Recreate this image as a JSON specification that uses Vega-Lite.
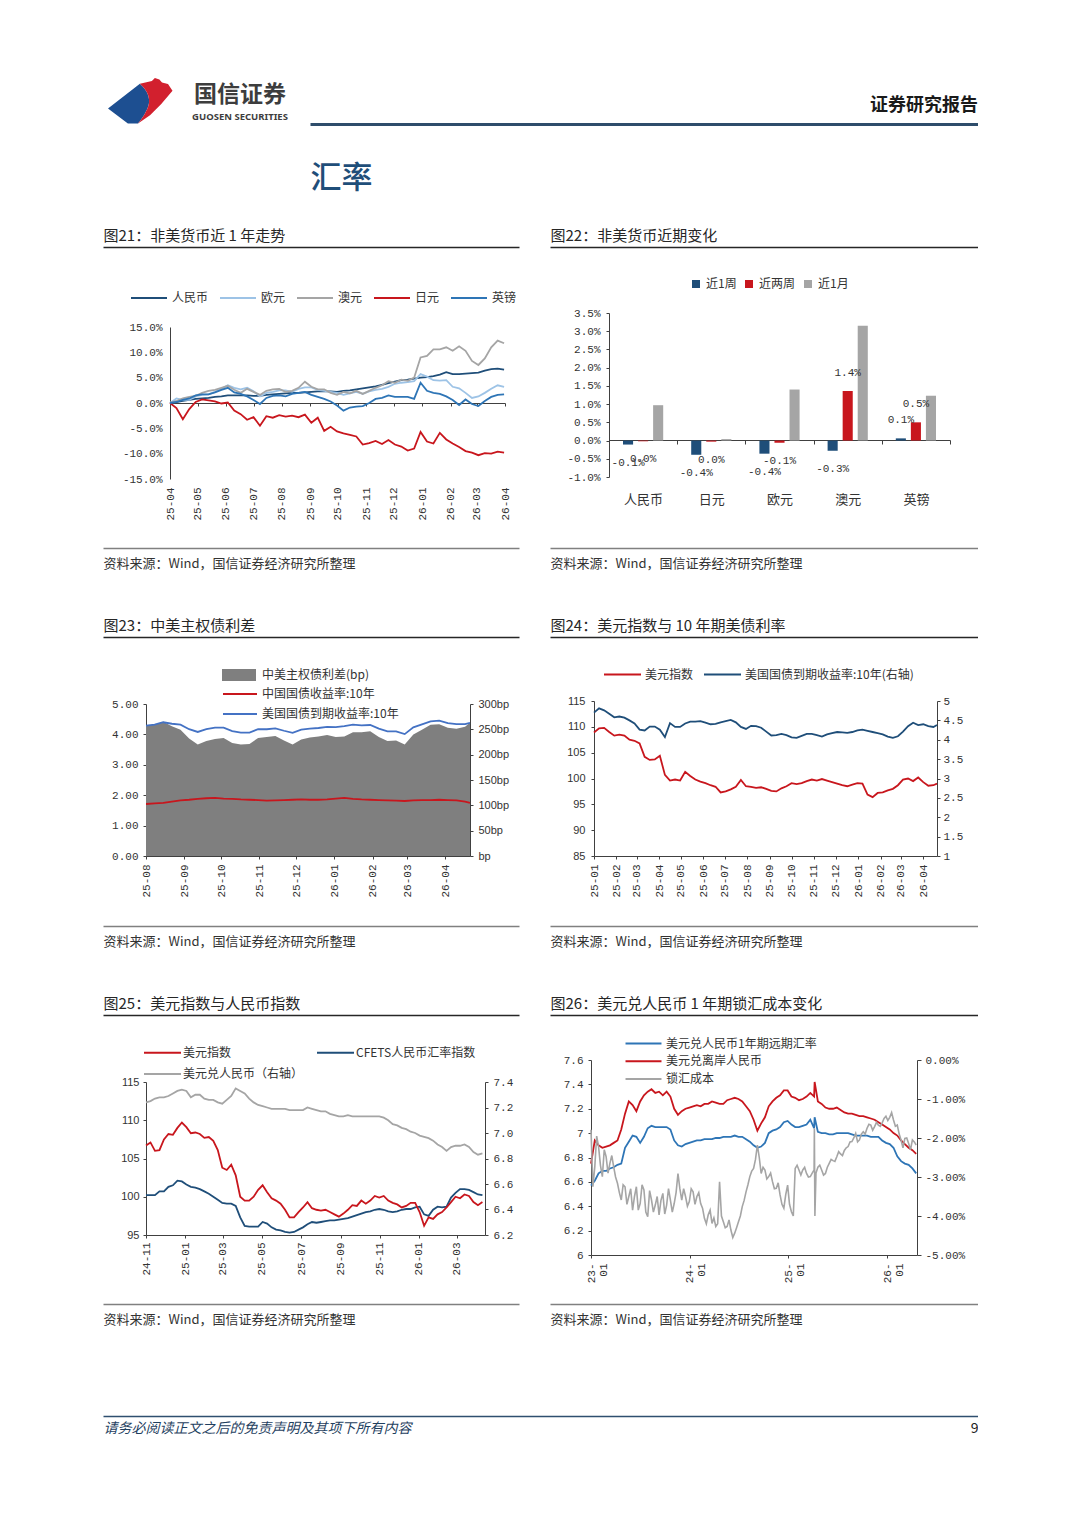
{
"$schema":"https://vega.github.io/schema/vega-lite/v6.json",
"padding":{"left":103,"top":78,"right":0,"bottom":0},
"background":"white",
"config":{
 "view":{"stroke":null},
 "font":"Noto Sans CJK SC",
 "locale":{"number":{"decimal":".","thousands":",","grouping":[3],"currency":["",""],"minus":"-"}},
 "axis":{"grid":false,"domainColor":"#404040","domainWidth":1,"tickColor":"#404040","tickSize":3,"labelColor":"#333333","labelFont":"Liberation Mono","labelFontSize":11,"labelOverlap":false,"labelBound":false,"labelFlush":false,"titleFont":"Noto Sans CJK SC"},
 "legend":{"labelFont":"Noto Sans CJK SC","labelFontSize":12,"labelColor":"#333333","padding":0,"labelLimit":400}
},
"datasets":{
"c21":[
{"d":"2025-04-01","人民币":0,"欧元":0,"澳元":0,"日元":0,"英镑":0},
{"d":"2025-04-08","人民币":0.2,"欧元":0.9,"澳元":0.4,"日元":-1.0,"英镑":0.2},
{"d":"2025-04-15","人民币":0.4,"欧元":0.6,"澳元":0.9,"日元":-3.2,"英镑":0.6},
{"d":"2025-04-22","人民币":0.6,"欧元":0.6,"澳元":1.2,"日元":-1.2,"英镑":0.9},
{"d":"2025-04-29","人民币":0.8,"欧元":1.3,"澳元":1.4,"日元":0.2,"英镑":1.5},
{"d":"2025-05-06","人民币":0.9,"欧元":1.6,"澳元":2.0,"日元":0.7,"英镑":1.7},
{"d":"2025-05-13","人民币":1.0,"欧元":1.7,"澳元":2.4,"日元":0.5,"英镑":1.7},
{"d":"2025-05-20","人民币":1.2,"欧元":2.2,"澳元":2.6,"日元":0.3,"英镑":2.1},
{"d":"2025-05-27","人民币":1.3,"欧元":2.8,"澳元":3.0,"日元":-0.1,"英镑":2.6},
{"d":"2025-06-03","人民币":1.5,"欧元":3.5,"澳元":3.4,"日元":0.1,"英镑":3.0},
{"d":"2025-06-10","人民币":1.5,"欧元":3.0,"澳元":2.6,"日元":-1.5,"英镑":2.1},
{"d":"2025-06-17","人民币":1.5,"欧元":2.7,"澳元":2.0,"日元":-2.2,"英镑":1.8},
{"d":"2025-06-24","人民币":1.5,"欧元":3.0,"澳元":2.8,"日元":-3.3,"英镑":1.3},
{"d":"2025-07-01","人民币":1.4,"欧元":2.3,"澳元":2.2,"日元":-2.8,"英镑":0.6},
{"d":"2025-07-08","人民币":1.4,"欧元":1.3,"澳元":1.6,"日元":-4.5,"英镑":-0.2},
{"d":"2025-07-15","人民币":1.6,"欧元":2.0,"澳元":2.4,"日元":-2.6,"英镑":1.0},
{"d":"2025-07-22","人民币":1.7,"欧元":2.2,"澳元":2.7,"日元":-2.9,"英镑":1.4},
{"d":"2025-07-29","人民币":1.8,"欧元":2.5,"澳元":2.8,"日元":-2.4,"英镑":1.5},
{"d":"2025-08-05","人民币":1.9,"欧元":2.5,"澳元":2.2,"日元":-2.7,"英镑":1.3},
{"d":"2025-08-12","人民币":2.0,"欧元":2.2,"澳元":2.4,"日元":-2.5,"英镑":1.8},
{"d":"2025-08-19","人民币":2.0,"欧元":2.8,"澳元":3.0,"日元":-2.8,"英镑":2.0},
{"d":"2025-08-26","人民币":2.1,"欧元":3.1,"澳元":4.2,"日元":-2.3,"英镑":2.2},
{"d":"2025-09-02","人民币":2.2,"欧元":3.1,"澳元":3.2,"日元":-3.9,"英镑":1.6},
{"d":"2025-09-09","人民币":2.3,"欧元":2.6,"澳元":2.7,"日元":-2.9,"英镑":1.2},
{"d":"2025-09-16","人民币":2.3,"欧元":2.4,"澳元":2.7,"日元":-5.5,"英镑":0.8},
{"d":"2025-09-23","人民币":2.3,"欧元":2.2,"澳元":2.0,"日元":-4.7,"英镑":0.3},
{"d":"2025-09-30","人民币":2.2,"欧元":2.0,"澳元":1.6,"日元":-5.6,"英镑":-0.5},
{"d":"2025-10-07","人民币":2.4,"欧元":1.6,"澳元":2.2,"日元":-6.0,"英镑":-1.5},
{"d":"2025-10-14","人民币":2.5,"欧元":1.9,"澳元":1.9,"日元":-6.3,"英镑":-0.9},
{"d":"2025-10-21","人民币":2.7,"欧元":2.2,"澳元":2.4,"日元":-6.6,"英镑":-0.7},
{"d":"2025-10-28","人民币":2.9,"欧元":1.8,"澳元":1.8,"日元":-8.2,"英镑":-0.6},
{"d":"2025-11-04","人民币":3.1,"欧元":2.3,"澳元":2.4,"日元":-7.9,"英镑":0.0},
{"d":"2025-11-11","人民币":3.3,"欧元":2.6,"澳元":3.0,"日元":-7.5,"英镑":0.8},
{"d":"2025-11-18","人民币":3.6,"欧元":2.8,"澳元":3.5,"日元":-8.1,"英镑":1.0},
{"d":"2025-11-25","人民币":3.9,"欧元":3.2,"澳元":4.3,"日元":-7.3,"英镑":1.5},
{"d":"2025-12-02","人民币":4.2,"欧元":3.8,"澳元":4.0,"日元":-8.2,"英镑":1.2},
{"d":"2025-12-09","人民币":4.5,"欧元":4.0,"澳元":4.6,"日元":-8.6,"英镑":1.2},
{"d":"2025-12-16","人民币":4.6,"欧元":4.1,"澳元":4.4,"日元":-9.4,"英镑":1.2},
{"d":"2025-12-23","人民币":4.8,"欧元":4.3,"澳元":5.0,"日元":-9.0,"英镑":0.8},
{"d":"2025-12-30","人民币":5.0,"欧元":5.7,"澳元":9.0,"日元":-5.7,"英镑":4.0},
{"d":"2026-01-06","人民币":5.1,"欧元":5.2,"澳元":9.3,"日元":-7.6,"英镑":2.4},
{"d":"2026-01-13","人民币":5.3,"欧元":4.5,"澳元":10.6,"日元":-8.0,"英镑":2.0},
{"d":"2026-01-20","人民币":5.6,"欧元":4.4,"澳元":10.6,"日元":-5.9,"英镑":1.8},
{"d":"2026-01-27","人民币":6.1,"欧元":4.5,"澳元":11.0,"日元":-7.2,"英镑":1.3},
{"d":"2026-02-03","人民币":5.7,"欧元":3.2,"澳元":10.3,"日元":-8.0,"英镑":0.6},
{"d":"2026-02-10","人民币":5.7,"欧元":2.9,"澳元":11.2,"日元":-8.7,"英镑":-0.4},
{"d":"2026-02-17","人民币":5.8,"欧元":2.0,"澳元":10.3,"日元":-9.5,"英镑":0.7},
{"d":"2026-02-24","人民币":5.9,"欧元":1.0,"澳元":8.3,"日元":-9.8,"英镑":-0.2},
{"d":"2026-03-03","人民币":6.0,"欧元":1.3,"澳元":7.5,"日元":-10.3,"英镑":-0.6},
{"d":"2026-03-10","人民币":6.4,"欧元":2.0,"澳元":8.8,"日元":-9.9,"英镑":0.4},
{"d":"2026-03-17","人民币":6.7,"欧元":2.8,"澳元":11.0,"日元":-10.0,"英镑":1.2},
{"d":"2026-03-24","人民币":6.8,"欧元":3.5,"澳元":12.3,"日元":-9.6,"英镑":1.6},
{"d":"2026-03-31","人民币":6.6,"欧元":3.2,"澳元":11.8,"日元":-9.8,"英镑":1.7}
],
"c22":[
{"c":"人民币","s":"近1周","v":-0.0011},{"c":"人民币","s":"近两周","v":-0.0002},{"c":"人民币","s":"近1月","v":0.0097},
{"c":"日元","s":"近1周","v":-0.0039},{"c":"日元","s":"近两周","v":-0.0003},{"c":"日元","s":"近1月","v":0.0004},
{"c":"欧元","s":"近1周","v":-0.0036},{"c":"欧元","s":"近两周","v":-0.0006},{"c":"欧元","s":"近1月","v":0.014},
{"c":"澳元","s":"近1周","v":-0.0028},{"c":"澳元","s":"近两周","v":0.0136},{"c":"澳元","s":"近1月","v":0.0315},
{"c":"英镑","s":"近1周","v":0.0006},{"c":"英镑","s":"近两周","v":0.005},{"c":"英镑","s":"近1月","v":0.0123}
],
"c23":[
{"d":"2025-08-01","us":4.29,"cn":1.71,"sp":258},{"d":"2025-08-08","us":4.32,"cn":1.73,"sp":259},{"d":"2025-08-15","us":4.40,"cn":1.75,"sp":265},
{"d":"2025-08-22","us":4.35,"cn":1.79,"sp":256},{"d":"2025-08-29","us":4.32,"cn":1.83,"sp":249},{"d":"2025-09-05","us":4.17,"cn":1.85,"sp":232},
{"d":"2025-09-12","us":4.08,"cn":1.88,"sp":220},{"d":"2025-09-19","us":4.17,"cn":1.90,"sp":227},{"d":"2025-09-26","us":4.22,"cn":1.91,"sp":231},
{"d":"2025-10-03","us":4.22,"cn":1.89,"sp":233},{"d":"2025-10-10","us":4.11,"cn":1.88,"sp":223},{"d":"2025-10-17","us":4.06,"cn":1.86,"sp":220},
{"d":"2025-10-24","us":4.06,"cn":1.85,"sp":221},{"d":"2025-10-31","us":4.17,"cn":1.84,"sp":233},{"d":"2025-11-07","us":4.17,"cn":1.82,"sp":235},
{"d":"2025-11-14","us":4.20,"cn":1.83,"sp":237},{"d":"2025-11-21","us":4.12,"cn":1.84,"sp":228},{"d":"2025-11-28","us":4.05,"cn":1.85,"sp":220},
{"d":"2025-12-05","us":4.16,"cn":1.86,"sp":230},{"d":"2025-12-12","us":4.19,"cn":1.85,"sp":234},{"d":"2025-12-19","us":4.21,"cn":1.85,"sp":236},
{"d":"2025-12-26","us":4.25,"cn":1.86,"sp":239},{"d":"2026-01-02","us":4.24,"cn":1.89,"sp":235},{"d":"2026-01-09","us":4.27,"cn":1.91,"sp":236},
{"d":"2026-01-16","us":4.32,"cn":1.88,"sp":244},{"d":"2026-01-23","us":4.30,"cn":1.86,"sp":244},{"d":"2026-01-30","us":4.31,"cn":1.85,"sp":246},
{"d":"2026-02-06","us":4.19,"cn":1.84,"sp":235},{"d":"2026-02-13","us":4.10,"cn":1.83,"sp":227},{"d":"2026-02-20","us":4.10,"cn":1.82,"sp":228},
{"d":"2026-02-27","us":4.01,"cn":1.81,"sp":220},{"d":"2026-03-06","us":4.23,"cn":1.83,"sp":240},{"d":"2026-03-13","us":4.33,"cn":1.84,"sp":249},
{"d":"2026-03-20","us":4.43,"cn":1.84,"sp":259},{"d":"2026-03-27","us":4.45,"cn":1.85,"sp":260},{"d":"2026-04-03","us":4.37,"cn":1.84,"sp":253},
{"d":"2026-04-10","us":4.34,"cn":1.83,"sp":251},{"d":"2026-04-17","us":4.34,"cn":1.79,"sp":255},{"d":"2026-04-21","us":4.38,"cn":1.75,"sp":263}
],
"c24":[
{"d":"2025-01-01","dxy":108.9,"u":4.70},{"d":"2025-01-08","dxy":109.7,"u":4.81},{"d":"2025-01-15","dxy":109.8,"u":4.76},{"d":"2025-01-22","dxy":109.0,"u":4.67},
{"d":"2025-01-29","dxy":108.3,"u":4.58},{"d":"2025-02-05","dxy":108.5,"u":4.60},{"d":"2025-02-12","dxy":108.3,"u":4.57},{"d":"2025-02-19","dxy":107.5,"u":4.50},
{"d":"2025-02-26","dxy":107.3,"u":4.42},{"d":"2025-03-05","dxy":106.8,"u":4.26},{"d":"2025-03-12","dxy":104.2,"u":4.24},{"d":"2025-03-19","dxy":103.6,"u":4.34},
{"d":"2025-03-26","dxy":103.7,"u":4.34},{"d":"2025-04-02","dxy":104.4,"u":4.26},{"d":"2025-04-09","dxy":100.7,"u":4.07},{"d":"2025-04-16","dxy":99.6,"u":4.43},
{"d":"2025-04-23","dxy":99.8,"u":4.33},{"d":"2025-04-30","dxy":99.6,"u":4.33},{"d":"2025-05-07","dxy":101.3,"u":4.42},{"d":"2025-05-14","dxy":100.5,"u":4.47},
{"d":"2025-05-21","dxy":99.8,"u":4.47},{"d":"2025-05-28","dxy":99.4,"u":4.48},{"d":"2025-06-04","dxy":99.1,"u":4.44},{"d":"2025-06-11","dxy":98.7,"u":4.40},
{"d":"2025-06-18","dxy":98.4,"u":4.41},{"d":"2025-06-25","dxy":97.3,"u":4.45},{"d":"2025-07-02","dxy":97.5,"u":4.48},{"d":"2025-07-09","dxy":97.9,"u":4.51},
{"d":"2025-07-16","dxy":98.4,"u":4.45},{"d":"2025-07-23","dxy":99.7,"u":4.33},{"d":"2025-07-30","dxy":98.5,"u":4.28},{"d":"2025-08-06","dxy":98.4,"u":4.36},
{"d":"2025-08-13","dxy":98.2,"u":4.35},{"d":"2025-08-20","dxy":98.3,"u":4.31},{"d":"2025-08-27","dxy":98.0,"u":4.21},{"d":"2025-09-03","dxy":97.6,"u":4.11},
{"d":"2025-09-10","dxy":97.5,"u":4.12},{"d":"2025-09-17","dxy":98.1,"u":4.15},{"d":"2025-09-24","dxy":98.5,"u":4.12},{"d":"2025-10-01","dxy":99.1,"u":4.06},
{"d":"2025-10-08","dxy":98.9,"u":4.05},{"d":"2025-10-15","dxy":99.1,"u":4.10},{"d":"2025-10-22","dxy":99.5,"u":4.15},{"d":"2025-10-29","dxy":99.8,"u":4.15},
{"d":"2025-11-05","dxy":99.6,"u":4.12},{"d":"2025-11-12","dxy":99.9,"u":4.08},{"d":"2025-11-19","dxy":99.6,"u":4.14},{"d":"2025-11-26","dxy":99.3,"u":4.17},
{"d":"2025-12-03","dxy":99.0,"u":4.20},{"d":"2025-12-10","dxy":98.7,"u":4.19},{"d":"2025-12-17","dxy":98.5,"u":4.18},{"d":"2025-12-24","dxy":98.8,"u":4.20},
{"d":"2025-12-31","dxy":99.1,"u":4.24},{"d":"2026-01-07","dxy":99.0,"u":4.26},{"d":"2026-01-14","dxy":96.9,"u":4.23},{"d":"2026-01-21","dxy":96.4,"u":4.20},
{"d":"2026-01-28","dxy":97.2,"u":4.17},{"d":"2026-02-04","dxy":97.3,"u":4.14},{"d":"2026-02-11","dxy":97.7,"u":4.08},{"d":"2026-02-18","dxy":98.0,"u":4.05},
{"d":"2026-02-25","dxy":98.7,"u":4.09},{"d":"2026-03-04","dxy":99.8,"u":4.21},{"d":"2026-03-11","dxy":100.0,"u":4.35},{"d":"2026-03-18","dxy":99.5,"u":4.44},
{"d":"2026-03-25","dxy":100.2,"u":4.38},{"d":"2026-04-01","dxy":99.3,"u":4.40},{"d":"2026-04-08","dxy":98.6,"u":4.35},{"d":"2026-04-15","dxy":98.7,"u":4.33},
{"d":"2026-04-20","dxy":99.0,"u":4.38}
],
"c25":[
{"d":"2024-11-01","dxy":106.7,"cf":100.2,"cny":7.24},{"d":"2024-11-08","dxy":107.1,"cf":100.2,"cny":7.25},{"d":"2024-11-15","dxy":106.0,"cf":100.2,"cny":7.27},
{"d":"2024-11-22","dxy":106.1,"cf":100.7,"cny":7.28},{"d":"2024-11-29","dxy":107.5,"cf":100.7,"cny":7.28},{"d":"2024-12-06","dxy":108.2,"cf":101.3,"cny":7.29},
{"d":"2024-12-13","dxy":108.1,"cf":101.5,"cny":7.31},{"d":"2024-12-20","dxy":109.0,"cf":102.1,"cny":7.33},{"d":"2024-12-27","dxy":109.7,"cf":102.0,"cny":7.34},
{"d":"2025-01-03","dxy":109.1,"cf":101.6,"cny":7.33},{"d":"2025-01-10","dxy":108.3,"cf":101.3,"cny":7.28},{"d":"2025-01-17","dxy":108.4,"cf":101.2,"cny":7.30},
{"d":"2025-01-24","dxy":108.2,"cf":101.0,"cny":7.30},{"d":"2025-01-31","dxy":107.7,"cf":100.7,"cny":7.27},{"d":"2025-02-07","dxy":107.8,"cf":100.4,"cny":7.26},
{"d":"2025-02-14","dxy":107.3,"cf":100.0,"cny":7.26},{"d":"2025-02-21","dxy":106.1,"cf":99.6,"cny":7.24},{"d":"2025-02-28","dxy":103.8,"cf":99.2,"cny":7.23},
{"d":"2025-03-07","dxy":103.5,"cf":99.1,"cny":7.26},{"d":"2025-03-14","dxy":104.2,"cf":99.1,"cny":7.29},{"d":"2025-03-21","dxy":102.8,"cf":98.8,"cny":7.35},
{"d":"2025-03-28","dxy":100.0,"cf":97.3,"cny":7.33},{"d":"2025-04-04","dxy":99.5,"cf":96.2,"cny":7.31},{"d":"2025-04-11","dxy":99.5,"cf":96.1,"cny":7.27},
{"d":"2025-04-18","dxy":100.0,"cf":96.1,"cny":7.24},{"d":"2025-04-25","dxy":100.9,"cf":96.1,"cny":7.22},{"d":"2025-05-02","dxy":101.5,"cf":96.7,"cny":7.21},
{"d":"2025-05-09","dxy":100.6,"cf":96.5,"cny":7.20},{"d":"2025-05-16","dxy":99.8,"cf":96.0,"cny":7.19},{"d":"2025-05-23","dxy":99.5,"cf":95.7,"cny":7.19},
{"d":"2025-05-30","dxy":99.1,"cf":95.6,"cny":7.19},{"d":"2025-06-06","dxy":98.3,"cf":95.4,"cny":7.19},{"d":"2025-06-13","dxy":97.3,"cf":95.3,"cny":7.18},
{"d":"2025-06-20","dxy":97.3,"cf":95.4,"cny":7.18},{"d":"2025-06-27","dxy":98.0,"cf":95.7,"cny":7.18},{"d":"2025-07-04","dxy":98.6,"cf":96.0,"cny":7.18},
{"d":"2025-07-11","dxy":99.3,"cf":96.4,"cny":7.20},{"d":"2025-07-18","dxy":98.5,"cf":96.7,"cny":7.19},{"d":"2025-07-25","dxy":98.3,"cf":96.6,"cny":7.18},
{"d":"2025-08-01","dxy":98.2,"cf":96.7,"cny":7.17},{"d":"2025-08-08","dxy":98.3,"cf":96.8,"cny":7.17},{"d":"2025-08-15","dxy":98.0,"cf":96.9,"cny":7.15},
{"d":"2025-08-22","dxy":97.7,"cf":96.9,"cny":7.14},{"d":"2025-08-29","dxy":97.4,"cf":97.0,"cny":7.13},{"d":"2025-09-05","dxy":97.8,"cf":97.1,"cny":7.13},
{"d":"2025-09-12","dxy":98.3,"cf":97.2,"cny":7.14},{"d":"2025-09-19","dxy":98.9,"cf":97.4,"cny":7.13},{"d":"2025-09-26","dxy":98.8,"cf":97.6,"cny":7.13},
{"d":"2025-10-03","dxy":99.5,"cf":97.8,"cny":7.13},{"d":"2025-10-10","dxy":99.1,"cf":98.0,"cny":7.13},{"d":"2025-10-17","dxy":99.5,"cf":98.1,"cny":7.13},
{"d":"2025-10-24","dxy":100.1,"cf":98.3,"cny":7.13},{"d":"2025-10-31","dxy":99.9,"cf":98.4,"cny":7.13},{"d":"2025-11-07","dxy":100.1,"cf":98.3,"cny":7.12},
{"d":"2025-11-14","dxy":99.5,"cf":98.1,"cny":7.10},{"d":"2025-11-21","dxy":99.2,"cf":98.0,"cny":7.07},{"d":"2025-11-28","dxy":99.0,"cf":98.1,"cny":7.06},
{"d":"2025-12-05","dxy":98.6,"cf":98.3,"cny":7.04},{"d":"2025-12-12","dxy":98.8,"cf":98.4,"cny":7.03},{"d":"2025-12-19","dxy":99.2,"cf":98.4,"cny":7.01},
{"d":"2025-12-26","dxy":99.2,"cf":98.6,"cny":7.00},{"d":"2026-01-02","dxy":98.0,"cf":98.7,"cny":6.98},{"d":"2026-01-09","dxy":96.2,"cf":97.7,"cny":6.97},
{"d":"2026-01-16","dxy":97.3,"cf":97.5,"cny":6.96},{"d":"2026-01-23","dxy":97.1,"cf":98.3,"cny":6.94},{"d":"2026-01-30","dxy":97.7,"cf":98.7,"cny":6.91},
{"d":"2026-02-06","dxy":98.0,"cf":98.6,"cny":6.89},{"d":"2026-02-13","dxy":98.6,"cf":98.7,"cny":6.86},{"d":"2026-02-20","dxy":99.3,"cf":99.9,"cny":6.89},
{"d":"2026-02-27","dxy":100.0,"cf":100.5,"cny":6.90},{"d":"2026-03-06","dxy":99.8,"cf":101.0,"cny":6.90},{"d":"2026-03-13","dxy":100.3,"cf":101.0,"cny":6.91},
{"d":"2026-03-20","dxy":100.1,"cf":100.9,"cny":6.89},{"d":"2026-03-27","dxy":99.3,"cf":100.6,"cny":6.85},{"d":"2026-04-03","dxy":98.9,"cf":100.3,"cny":6.83},
{"d":"2026-04-10","dxy":99.3,"cf":100.2,"cny":6.84}
],
"c26":[
{"d":"2023-01-01","f":6.57,"h":6.75},{"d":"2023-01-15","f":6.61,"h":6.94},{"d":"2023-01-29","f":6.67,"h":6.90},{"d":"2023-02-12","f":6.69,"h":6.88},
{"d":"2023-02-26","f":6.69,"h":6.89},{"d":"2023-03-12","f":6.71,"h":6.90},{"d":"2023-03-26","f":6.72,"h":6.92},{"d":"2023-04-09","f":6.74,"h":6.94},
{"d":"2023-04-23","f":6.75,"h":7.03},{"d":"2023-05-07","f":6.88,"h":7.16},{"d":"2023-05-21","f":6.93,"h":7.26},{"d":"2023-06-04","f":6.98,"h":7.23},
{"d":"2023-06-18","f":6.97,"h":7.18},{"d":"2023-07-02","f":6.92,"h":7.26},{"d":"2023-07-16","f":6.97,"h":7.31},{"d":"2023-07-30","f":7.04,"h":7.34},
{"d":"2023-08-13","f":7.06,"h":7.36},{"d":"2023-08-27","f":7.05,"h":7.33},{"d":"2023-09-10","f":7.05,"h":7.34},{"d":"2023-09-24","f":7.05,"h":7.31},
{"d":"2023-10-08","f":7.05,"h":7.34},{"d":"2023-10-22","f":7.03,"h":7.30},{"d":"2023-11-05","f":6.94,"h":7.20},{"d":"2023-11-19","f":6.90,"h":7.15},
{"d":"2023-12-03","f":6.89,"h":7.18},{"d":"2023-12-17","f":6.91,"h":7.20},{"d":"2023-12-31","f":6.92,"h":7.21},{"d":"2024-01-14","f":6.93,"h":7.22},
{"d":"2024-01-28","f":6.94,"h":7.23},{"d":"2024-02-11","f":6.94,"h":7.22},{"d":"2024-02-25","f":6.95,"h":7.24},{"d":"2024-03-10","f":6.95,"h":7.24},
{"d":"2024-03-24","f":6.95,"h":7.26},{"d":"2024-04-07","f":6.96,"h":7.25},{"d":"2024-04-21","f":6.96,"h":7.24},{"d":"2024-05-05","f":6.97,"h":7.24},
{"d":"2024-05-19","f":6.97,"h":7.27},{"d":"2024-06-02","f":6.97,"h":7.28},{"d":"2024-06-16","f":6.98,"h":7.29},{"d":"2024-06-30","f":6.97,"h":7.28},
{"d":"2024-07-14","f":6.97,"h":7.26},{"d":"2024-07-28","f":6.95,"h":7.22},{"d":"2024-08-11","f":6.93,"h":7.18},{"d":"2024-08-25","f":6.90,"h":7.11},
{"d":"2024-09-08","f":6.88,"h":7.02},{"d":"2024-09-22","f":6.89,"h":7.08},{"d":"2024-10-06","f":6.92,"h":7.13},{"d":"2024-10-20","f":7.00,"h":7.22},
{"d":"2024-11-03","f":7.02,"h":7.26},{"d":"2024-11-17","f":7.03,"h":7.29},{"d":"2024-12-01","f":7.05,"h":7.31},{"d":"2024-12-15","f":7.09,"h":7.35},
{"d":"2024-12-29","f":7.10,"h":7.35},{"d":"2025-01-12","f":7.07,"h":7.30},{"d":"2025-01-26","f":7.05,"h":7.29},{"d":"2025-02-09","f":7.05,"h":7.27},
{"d":"2025-02-23","f":7.06,"h":7.28},{"d":"2025-03-09","f":7.07,"h":7.30},{"d":"2025-03-23","f":7.11,"h":7.33},{"d":"2025-04-06","f":7.04,"h":7.30},
{"d":"2025-04-08","f":7.13,"h":7.42},{"d":"2025-04-20","f":7.01,"h":7.26},{"d":"2025-05-04","f":7.00,"h":7.24},{"d":"2025-05-18","f":7.00,"h":7.21},
{"d":"2025-06-01","f":6.99,"h":7.20},{"d":"2025-06-15","f":6.99,"h":7.20},{"d":"2025-06-29","f":7.00,"h":7.21},{"d":"2025-07-13","f":7.00,"h":7.19},
{"d":"2025-07-27","f":7.00,"h":7.17},{"d":"2025-08-10","f":7.00,"h":7.16},{"d":"2025-08-24","f":6.99,"h":7.16},{"d":"2025-09-07","f":6.98,"h":7.15},
{"d":"2025-09-21","f":6.98,"h":7.14},{"d":"2025-10-05","f":6.98,"h":7.14},{"d":"2025-10-19","f":6.98,"h":7.13},{"d":"2025-11-02","f":6.97,"h":7.12},
{"d":"2025-11-16","f":6.97,"h":7.11},{"d":"2025-11-30","f":6.97,"h":7.09},{"d":"2025-12-14","f":6.94,"h":7.07},{"d":"2025-12-28","f":6.92,"h":7.05},
{"d":"2026-01-11","f":6.91,"h":7.03},{"d":"2026-01-25","f":6.88,"h":7.00},{"d":"2026-02-08","f":6.81,"h":6.98},{"d":"2026-02-22","f":6.77,"h":6.94},
{"d":"2026-03-08","f":6.75,"h":6.91},{"d":"2026-03-22","f":6.74,"h":6.88},{"d":"2026-04-05","f":6.71,"h":6.86},{"d":"2026-04-19","f":6.67,"h":6.83}
],
"c26g":[
{"d":"2023-01-01","g":-1.79},{"d":"2023-01-08","g":-3.25},{"d":"2023-01-15","g":-2.74},{"d":"2023-01-22","g":-1.95},{"d":"2023-01-29","g":-2.22},
{"d":"2023-02-05","g":-2.70},{"d":"2023-02-12","g":-2.99},{"d":"2023-02-19","g":-2.30},{"d":"2023-02-26","g":-2.48},{"d":"2023-03-05","g":-2.90},
{"d":"2023-03-12","g":-2.65},{"d":"2023-03-19","g":-2.45},{"d":"2023-03-26","g":-2.74},{"d":"2023-04-02","g":-3.00},{"d":"2023-04-09","g":-3.16},
{"d":"2023-04-16","g":-3.40},{"d":"2023-04-23","g":-3.59},{"d":"2023-04-30","g":-3.20},{"d":"2023-05-07","g":-3.25},{"d":"2023-05-14","g":-3.70},
{"d":"2023-05-21","g":-3.50},{"d":"2023-05-28","g":-3.30},{"d":"2023-06-04","g":-3.85},{"d":"2023-06-11","g":-3.50},{"d":"2023-06-18","g":-3.25},
{"d":"2023-06-25","g":-3.85},{"d":"2023-07-02","g":-3.68},{"d":"2023-07-09","g":-3.20},{"d":"2023-07-16","g":-3.33},{"d":"2023-07-23","g":-3.90},
{"d":"2023-07-30","g":-4.02},{"d":"2023-08-06","g":-3.35},{"d":"2023-08-13","g":-3.59},{"d":"2023-08-20","g":-3.90},{"d":"2023-08-27","g":-3.72},
{"d":"2023-09-03","g":-3.50},{"d":"2023-09-10","g":-3.97},{"d":"2023-09-17","g":-3.60},{"d":"2023-09-24","g":-3.42},{"d":"2023-10-01","g":-3.95},
{"d":"2023-10-08","g":-3.72},{"d":"2023-10-15","g":-3.30},{"d":"2023-10-22","g":-3.59},{"d":"2023-10-29","g":-3.90},{"d":"2023-11-05","g":-3.68},
{"d":"2023-11-12","g":-3.40},{"d":"2023-11-19","g":-2.91},{"d":"2023-11-26","g":-3.30},{"d":"2023-12-03","g":-3.59},{"d":"2023-12-10","g":-3.30},
{"d":"2023-12-17","g":-3.50},{"d":"2023-12-24","g":-3.75},{"d":"2023-12-31","g":-3.63},{"d":"2024-01-07","g":-3.30},{"d":"2024-01-14","g":-3.38},
{"d":"2024-01-21","g":-3.70},{"d":"2024-01-28","g":-3.50},{"d":"2024-02-04","g":-3.40},{"d":"2024-02-11","g":-3.68},{"d":"2024-02-18","g":-3.80},
{"d":"2024-02-25","g":-4.06},{"d":"2024-03-03","g":-4.20},{"d":"2024-03-10","g":-3.97},{"d":"2024-03-17","g":-3.85},{"d":"2024-03-24","g":-4.19},
{"d":"2024-03-31","g":-4.05},{"d":"2024-04-07","g":-4.27},{"d":"2024-04-14","g":-4.20},{"d":"2024-04-21","g":-3.12},{"d":"2024-04-28","g":-4.00},
{"d":"2024-05-05","g":-4.15},{"d":"2024-05-12","g":-4.30},{"d":"2024-05-19","g":-4.27},{"d":"2024-05-26","g":-4.10},{"d":"2024-06-02","g":-4.36},
{"d":"2024-06-09","g":-4.55},{"d":"2024-06-16","g":-4.44},{"d":"2024-06-23","g":-4.30},{"d":"2024-06-30","g":-4.15},{"d":"2024-07-07","g":-4.00},
{"d":"2024-07-14","g":-3.76},{"d":"2024-07-21","g":-3.60},{"d":"2024-07-28","g":-3.38},{"d":"2024-08-04","g":-3.20},{"d":"2024-08-11","g":-2.99},
{"d":"2024-08-18","g":-2.85},{"d":"2024-08-25","g":-2.78},{"d":"2024-09-01","g":-2.55},{"d":"2024-09-08","g":-2.18},{"d":"2024-09-15","g":-2.50},
{"d":"2024-09-22","g":-2.91},{"d":"2024-09-29","g":-2.75},{"d":"2024-10-06","g":-2.82},{"d":"2024-10-13","g":-3.05},{"d":"2024-10-20","g":-2.99},
{"d":"2024-10-27","g":-2.90},{"d":"2024-11-03","g":-3.12},{"d":"2024-11-10","g":-3.30},{"d":"2024-11-17","g":-3.29},{"d":"2024-11-24","g":-3.15},
{"d":"2024-12-01","g":-3.46},{"d":"2024-12-08","g":-3.70},{"d":"2024-12-15","g":-3.80},{"d":"2024-12-22","g":-3.45},{"d":"2024-12-29","g":-3.21},
{"d":"2025-01-05","g":-3.70},{"d":"2025-01-12","g":-3.89},{"d":"2025-01-19","g":-4.00},{"d":"2025-01-26","g":-2.78},{"d":"2025-02-02","g":-2.70},
{"d":"2025-02-09","g":-2.82},{"d":"2025-02-16","g":-2.95},{"d":"2025-02-23","g":-2.82},{"d":"2025-03-02","g":-2.75},{"d":"2025-03-09","g":-2.91},
{"d":"2025-03-16","g":-3.00},{"d":"2025-03-23","g":-2.99},{"d":"2025-03-30","g":-2.90},{"d":"2025-04-06","g":-2.82},{"d":"2025-04-07","g":-1.75},
{"d":"2025-04-09","g":-4.00},{"d":"2025-04-13","g":-2.90},{"d":"2025-04-20","g":-2.75},{"d":"2025-04-27","g":-2.70},{"d":"2025-05-04","g":-2.82},
{"d":"2025-05-11","g":-2.95},{"d":"2025-05-18","g":-2.91},{"d":"2025-05-25","g":-2.75},{"d":"2025-06-01","g":-2.65},{"d":"2025-06-08","g":-2.55},
{"d":"2025-06-15","g":-2.58},{"d":"2025-06-22","g":-2.60},{"d":"2025-06-29","g":-2.48},{"d":"2025-07-06","g":-2.35},{"d":"2025-07-13","g":-2.41},
{"d":"2025-07-20","g":-2.45},{"d":"2025-07-27","g":-2.32},{"d":"2025-08-03","g":-2.25},{"d":"2025-08-10","g":-2.22},{"d":"2025-08-17","g":-2.10},
{"d":"2025-08-24","g":-2.09},{"d":"2025-08-31","g":-2.00},{"d":"2025-09-07","g":-1.88},{"d":"2025-09-14","g":-2.10},{"d":"2025-09-21","g":-2.05},
{"d":"2025-09-28","g":-1.90},{"d":"2025-10-05","g":-1.84},{"d":"2025-10-12","g":-1.90},{"d":"2025-10-19","g":-1.75},{"d":"2025-10-26","g":-1.65},
{"d":"2025-11-02","g":-1.67},{"d":"2025-11-09","g":-1.80},{"d":"2025-11-16","g":-1.71},{"d":"2025-11-23","g":-1.60},{"d":"2025-11-30","g":-1.67},
{"d":"2025-12-07","g":-1.70},{"d":"2025-12-14","g":-1.61},{"d":"2025-12-21","g":-1.50},{"d":"2025-12-28","g":-1.44},{"d":"2026-01-04","g":-1.55},
{"d":"2026-01-11","g":-1.47},{"d":"2026-01-18","g":-1.35},{"d":"2026-01-25","g":-1.54},{"d":"2026-02-01","g":-1.70},{"d":"2026-02-08","g":-1.67},
{"d":"2026-02-15","g":-1.90},{"d":"2026-02-22","g":-2.05},{"d":"2026-03-01","g":-2.25},{"d":"2026-03-08","g":-2.01},{"d":"2026-03-15","g":-2.00},
{"d":"2026-03-22","g":-2.14},{"d":"2026-03-29","g":-2.30},{"d":"2026-04-05","g":-2.05},{"d":"2026-04-12","g":-2.10},{"d":"2026-04-19","g":-2.18}
]
},
"spacing":35,
"resolve":{"scale":{"color":"independent","fill":"independent","shape":"independent"}},
"vconcat":[
{"hconcat":[
  {"hconcat":[
    {"width":79,"height":44,"data":{"values":[{"p":"b"},{"p":"r"}]},
     "mark":{"type":"point","filled":true,"size":5625,"opacity":1,"strokeWidth":0},
     "encoding":{
      "shape":{"field":"p","type":"nominal","legend":null,"scale":{"domain":["b","r"],"range":["M-0.92,0.17L-0.07,-0.49C0.15,-0.3,0.25,-0.05,0.12,0.2C0.05,0.35,-0.05,0.5,-0.12,0.57L-0.39,0.57Z","M-0.07,-0.49L0.25,-0.56L0.33,-0.64L0.45,-0.6L0.52,-0.52L0.68,-0.48L0.8,-0.3L0.5,0.05L0.2,0.35L-0.12,0.57C-0.05,0.5,0.05,0.35,0.12,0.2C0.25,-0.05,0.15,-0.3,-0.07,-0.49Z"]}},
      "color":{"field":"p","type":"nominal","legend":null,"scale":{"domain":["b","r"],"range":["#1d4f91","#d2202e"]}}}},
    {"width":100,"height":44,"data":{"values":[{}]},
     "layer":[
      {"mark":{"type":"text","text":"国信证券","font":"Noto Sans CJK SC","fontSize":23,"fontWeight":"bold","color":"#3d3d3d","baseline":"middle","align":"center","dy":-7},"encoding":{}},
      {"mark":{"type":"text","text":"GUOSEN SECURITIES","font":"Noto Sans","fontSize":9.5,"fontWeight":"bold","color":"#3d3d3d","baseline":"middle","align":"center","dy":15},"encoding":{}}
     ]}
  ],"spacing":8,"resolve":{"scale":{"color":"independent","fill":"independent","shape":"independent"}}},
  {"width":668,"height":44,"data":{"values":[{}]},
   "mark":{"type":"text","text":"证券研究报告","font":"Noto Sans CJK SC","fontSize":18,"fontWeight":"bold","color":"#1a1a1a","align":"right","baseline":"middle","dy":4},
   "encoding":{"x":{"datum":1,"type":"quantitative","scale":{"domain":[0,1]},
     "axis":{"orient":"bottom","ticks":false,"labels":false,"domainColor":"#2e4d6b","domainWidth":3,"title":"汇率","titleAnchor":"start","titlePadding":39,"titleFont":"Noto Sans CJK SC","titleFontSize":31,"titleFontWeight":500,"titleColor":"#1f4e79"}}}}
 ],"spacing":20,"resolve":{"scale":{"color":"independent","fill":"independent","shape":"independent"}}},
{"spacing":48,"resolve":{"scale":{"color":"independent","fill":"independent","shape":"independent"}},"vconcat":[
 {"hconcat":[
  {"spacing":0,"resolve":{"scale":{"color":"independent","fill":"independent","shape":"independent"}},"vconcat":[
   {"width":416,"height":32,"data":{"values":[{}]},"mark":{"type":"rule","opacity":0},
    "encoding":{"x":{"datum":0,"type":"quantitative","scale":{"domain":[0,1]},"axis":{"orient":"top","ticks":false,"labels":false,"domainColor":"#262626","domainWidth":1.5,"title":"图21：非美货币近 1 年走势","titleAnchor":"start","titlePadding":4,"titleFontSize":15,"titleFontWeight":"normal","titleColor":"#262626"}}}},
   {"width":416,"height":152,"data":{"name":"c21"},
    "transform":[{"fold":["人民币","欧元","澳元","日元","英镑"],"as":["s","v"]}],
    "mark":{"type":"line","strokeWidth":1.8},
    "encoding":{
     "x":{"field":"d","type":"temporal","scale":{"type":"utc","nice":false,"domain":[{"year":2025,"month":4,"date":1,"utc":true},{"year":2026,"month":4,"date":1,"utc":true}],"range":[67,402]},
       "axis":{"orient":"bottom","offset":-76,"tickCount":{"interval":"month","step":1},"labelExpr":"utcFormat(datum.value, '%y-%m')","labelAngle":270,"labelPadding":81,"minExtent":144,"title":null}},
     "y":{"field":"v","type":"quantitative","scale":{"domain":[-15,15],"nice":false},
       "axis":{"orient":"left","offset":-67,"values":[-15,-10,-5,0,5,10,15],"labelExpr":"format(datum.value, '.1f') + '%'","ticks":false,"labelPadding":8,"title":null}},
     "color":{"field":"s","type":"nominal","scale":{"domain":["人民币","欧元","澳元","日元","英镑"],"range":["#1f4e79","#9dc3e6","#a5a5a5","#c8161d","#2e75b6"]},
       "legend":{"orient":"none","legendX":27,"legendY":-48,"direction":"horizontal","gridAlign":"none","symbolType":"stroke","symbolSize":1296,"symbolStrokeWidth":2,"labelOffset":4,"columnPadding":7,"title":null}}}},
   {"width":416,"height":1,"data":{"values":[{}]},"mark":{"type":"rule","opacity":0},
    "encoding":{"x":{"datum":0,"type":"quantitative","scale":{"domain":[0,1]},"axis":{"orient":"bottom","ticks":false,"labels":false,"domainColor":"#808080","domainWidth":1.5,"title":"资料来源：Wind，国信证券经济研究所整理","titleAnchor":"start","titlePadding":9,"titleFontSize":13,"titleFontWeight":"normal","titleColor":"#333333"}}}}
  ]},
  {"spacing":0,"resolve":{"scale":{"color":"independent","fill":"independent","shape":"independent"}},"vconcat":[
   {"width":428,"height":31,"data":{"values":[{}]},"mark":{"type":"rule","opacity":0},
    "encoding":{"x":{"datum":0,"type":"quantitative","scale":{"domain":[0,1]},"axis":{"orient":"top","ticks":false,"labels":false,"domainColor":"#262626","domainWidth":1.5,"title":"图22：非美货币近期变化","titleAnchor":"start","titlePadding":4,"titleFontSize":15,"titleFontWeight":"normal","titleColor":"#262626"}}}},
   {"width":428,"height":164,"data":{"name":"c22"},
    "encoding":{
     "x":{"field":"c","type":"nominal","scale":{"domain":["人民币","日元","欧元","澳元","英镑"],"range":[59,400],"paddingInner":0,"paddingOuter":0},
       "axis":{"orient":"bottom","offset":-37,"tickBand":"extent","tickSize":4,"labelAngle":0,"labelPadding":49,"labelFont":"Noto Sans CJK SC","labelFontSize":13,"minExtent":107,"title":null}},
     "xOffset":{"field":"s","type":"nominal","scale":{"domain":["近1周","近两周","近1月"],"paddingInner":0.33,"paddingOuter":0.93}},
     "y":{"field":"v","type":"quantitative","scale":{"domain":[-0.01,0.035],"nice":false},
       "axis":{"orient":"left","offset":-59,"values":[-0.01,-0.005,0,0.005,0.01,0.015,0.02,0.025,0.03,0.035],"format":".1%","labelPadding":6,"title":null}}},
    "layer":[
     {"mark":{"type":"bar"},"encoding":{"color":{"field":"s","type":"nominal","scale":{"domain":["近1周","近两周","近1月"],"range":["#1f4e79","#c8161d","#a5a5a5"]},
       "legend":{"orient":"none","legendX":140,"legendY":-35,"direction":"horizontal","gridAlign":"none","symbolType":"square","symbolSize":64,"symbolStrokeWidth":0,"labelOffset":4,"columnPadding":6,"title":null}}}},
     {"transform":[{"filter":"datum.s != '近1月' && datum.v < 0"}],"mark":{"type":"text","baseline":"middle","dy":18,"font":"Liberation Mono","fontSize":11,"color":"#333333"},"encoding":{"text":{"field":"v","type":"quantitative","format":".1%"}}},
     {"transform":[{"filter":"datum.s != '近1月' && datum.v >= 0"}],"mark":{"type":"text","baseline":"middle","dy":-18,"font":"Liberation Mono","fontSize":11,"color":"#333333"},"encoding":{"text":{"field":"v","type":"quantitative","format":".1%"}}}
    ]},
   {"width":428,"height":1,"data":{"values":[{}]},"mark":{"type":"rule","opacity":0},
    "encoding":{"x":{"datum":0,"type":"quantitative","scale":{"domain":[0,1]},"axis":{"orient":"bottom","ticks":false,"labels":false,"domainColor":"#808080","domainWidth":1.5,"title":"资料来源：Wind，国信证券经济研究所整理","titleAnchor":"start","titlePadding":9,"titleFontSize":13,"titleFontWeight":"normal","titleColor":"#333333"}}}}
  ]}
 ],"spacing":31,"resolve":{"scale":{"color":"independent","fill":"independent","shape":"independent"}}},
 {"hconcat":[
  {"spacing":0,"resolve":{"scale":{"color":"independent","fill":"independent","shape":"independent"}},"vconcat":[
   {"width":416,"height":21,"data":{"values":[{}]},"mark":{"type":"rule","opacity":0},
    "encoding":{"x":{"datum":0,"type":"quantitative","scale":{"domain":[0,1]},"axis":{"orient":"top","ticks":false,"labels":false,"domainColor":"#262626","domainWidth":1.5,"title":"图23：中美主权债利差","titleAnchor":"start","titlePadding":4,"titleFontSize":15,"titleFontWeight":"normal","titleColor":"#262626"}}}},
   {"width":416,"height":152,"data":{"name":"c23"},
    "encoding":{"x":{"field":"d","type":"temporal","scale":{"type":"utc","nice":false,"domain":[{"year":2025,"month":8,"date":1,"utc":true},{"year":2026,"month":4,"date":21,"utc":true}],"range":[43,367]},
      "axis":{"orient":"bottom","tickCount":{"interval":"month","step":1},"labelExpr":"utcFormat(datum.value, '%y-%m')","labelAngle":270,"labelPadding":5,"minExtent":69,"title":null}}},
    "layer":[
     {"mark":{"type":"area","opacity":1},"encoding":{
       "y":{"field":"sp","type":"quantitative","scale":{"domain":[0,300],"nice":false},"axis":{"orient":"right","offset":-49,"values":[0,50,100,150,200,250,300],"labelExpr":"datum.value == 0 ? 'bp' : datum.value + 'bp'","labelFont":"Liberation Sans","labelPadding":5,"title":null}},
       "fill":{"datum":"中美主权债利差(bp)","type":"nominal","scale":{"domain":["中美主权债利差(bp)"],"range":["#7f7f7f"]},
         "legend":{"orient":"none","legendX":119,"legendY":-46,"symbolType":"M-1,-0.35H1V0.35H-1Z","symbolSize":1156,"symbolStrokeWidth":0,"labelOffset":6,"title":null}}}},
     {"mark":{"type":"line","strokeWidth":1.8},"encoding":{
       "y":{"field":"cn","type":"quantitative","scale":{"domain":[0,5],"nice":false},"axis":{"orient":"left","offset":-43,"values":[0,1,2,3,4,5],"format":".2f","labelPadding":5,"title":null}},
       "color":{"datum":"中国国债收益率:10年","type":"nominal","scale":{"domain":["中国国债收益率:10年","美国国债到期收益率:10年"],"range":["#c8161d","#4472c4"]},
         "legend":{"orient":"none","legendX":129,"legendY":-18,"direction":"vertical","symbolType":"M-2.5,0H2.5","symbolSize":185,"symbolStrokeWidth":2,"labelOffset":14,"rowPadding":6,"title":null}}}},
     {"mark":{"type":"line","strokeWidth":1.8},"encoding":{
       "y":{"field":"us","type":"quantitative","scale":{"domain":[0,5],"nice":false},"axis":null},
       "color":{"datum":"美国国债到期收益率:10年","type":"nominal"}}}
    ],
    "resolve":{"scale":{"y":"independent"}}},
   {"width":416,"height":1,"data":{"values":[{}]},"mark":{"type":"rule","opacity":0},
    "encoding":{"x":{"datum":0,"type":"quantitative","scale":{"domain":[0,1]},"axis":{"orient":"bottom","ticks":false,"labels":false,"domainColor":"#808080","domainWidth":1.5,"title":"资料来源：Wind，国信证券经济研究所整理","titleAnchor":"start","titlePadding":9,"titleFontSize":13,"titleFontWeight":"normal","titleColor":"#333333"}}}}
  ]},
  {"spacing":0,"resolve":{"scale":{"color":"independent","fill":"independent","shape":"independent"}},"vconcat":[
   {"width":428,"height":18,"data":{"values":[{}]},"mark":{"type":"rule","opacity":0},
    "encoding":{"x":{"datum":0,"type":"quantitative","scale":{"domain":[0,1]},"axis":{"orient":"top","ticks":false,"labels":false,"domainColor":"#262626","domainWidth":1.5,"title":"图24：美元指数与 10 年期美债利率","titleAnchor":"start","titlePadding":4,"titleFontSize":15,"titleFontWeight":"normal","titleColor":"#262626"}}}},
   {"width":428,"height":155,"data":{"name":"c24"},
    "encoding":{"x":{"field":"d","type":"temporal","scale":{"type":"utc","nice":false,"domain":[{"year":2025,"month":1,"date":1,"utc":true},{"year":2026,"month":4,"date":20,"utc":true}],"range":[44,387]},
      "axis":{"orient":"bottom","tickCount":{"interval":"month","step":1},"labelExpr":"utcFormat(datum.value, '%y-%m')","labelAngle":270,"labelPadding":5,"minExtent":69,"title":null}}},
    "layer":[
     {"mark":{"type":"line","strokeWidth":1.8},"encoding":{
       "y":{"field":"dxy","type":"quantitative","scale":{"domain":[85,115],"nice":false,"zero":false},"axis":{"orient":"left","offset":-44,"values":[85,90,95,100,105,110,115],"labelFont":"Liberation Sans","labelPadding":6,"title":null}},
       "color":{"datum":"美元指数","type":"nominal","scale":{"domain":["美元指数","美国国债到期收益率:10年(右轴)"],"range":["#c8161d","#1f4e79"]},
         "legend":{"orient":"none","legendX":53,"legendY":-46,"direction":"horizontal","gridAlign":"none","symbolType":"stroke","symbolSize":1369,"symbolStrokeWidth":2,"labelOffset":3,"columnPadding":6,"title":null}}}},
     {"mark":{"type":"line","strokeWidth":1.8},"encoding":{
       "y":{"field":"u","type":"quantitative","scale":{"domain":[1,5],"nice":false,"zero":false},"axis":{"orient":"right","offset":-41,"values":[1,1.5,2,2.5,3,3.5,4,4.5,5],"labelExpr":"datum.value % 1 == 0 ? format(datum.value, 'd') : format(datum.value, '.1f')","labelPadding":3,"title":null}},
       "color":{"datum":"美国国债到期收益率:10年(右轴)","type":"nominal"}}}
    ],
    "resolve":{"scale":{"y":"independent"}}},
   {"width":428,"height":1,"data":{"values":[{}]},"mark":{"type":"rule","opacity":0},
    "encoding":{"x":{"datum":0,"type":"quantitative","scale":{"domain":[0,1]},"axis":{"orient":"bottom","ticks":false,"labels":false,"domainColor":"#808080","domainWidth":1.5,"title":"资料来源：Wind，国信证券经济研究所整理","titleAnchor":"start","titlePadding":9,"titleFontSize":13,"titleFontWeight":"normal","titleColor":"#333333"}}}}
  ]}
 ],"spacing":31,"resolve":{"scale":{"color":"independent","fill":"independent","shape":"independent"}}},
 {"hconcat":[
  {"spacing":0,"resolve":{"scale":{"color":"independent","fill":"independent","shape":"independent"}},"vconcat":[
   {"width":416,"height":29,"data":{"values":[{}]},"mark":{"type":"rule","opacity":0},
    "encoding":{"x":{"datum":0,"type":"quantitative","scale":{"domain":[0,1]},"axis":{"orient":"top","ticks":false,"labels":false,"domainColor":"#262626","domainWidth":1.5,"title":"图25：美元指数与人民币指数","titleAnchor":"start","titlePadding":4,"titleFontSize":15,"titleFontWeight":"normal","titleColor":"#262626"}}}},
   {"width":416,"height":153,"data":{"name":"c25"},
    "encoding":{"x":{"field":"d","type":"temporal","scale":{"type":"utc","nice":false,"domain":[{"year":2024,"month":11,"date":1,"utc":true},{"year":2026,"month":4,"date":14,"utc":true}],"range":[43,382]},
      "axis":{"orient":"bottom","tickCount":{"interval":"month","step":2},"labelExpr":"utcFormat(datum.value, '%y-%m')","labelAngle":270,"labelPadding":4,"minExtent":68,"title":null}}},
    "layer":[
     {"mark":{"type":"line","strokeWidth":1.8},"encoding":{
       "y":{"field":"cny","type":"quantitative","scale":{"domain":[6.2,7.4],"nice":false,"zero":false},"axis":{"orient":"right","offset":-34,"values":[6.2,6.4,6.6,6.8,7,7.2,7.4],"format":".1f","labelPadding":5,"title":null}},
       "color":{"datum":"美元兑人民币（右轴）","type":"nominal","scale":{"domain":["美元指数","CFETS人民币汇率指数","美元兑人民币（右轴）"],"range":["#c8161d","#1f4e79","#a5a5a5"]},
         "legend":{"orient":"none","legendX":51,"legendY":-38,"direction":"horizontal","columns":2,"symbolType":"M-2.5,0H2.5","symbolSize":219,"symbolStrokeWidth":2,"labelOffset":12,"columnPadding":9,"rowPadding":6.6,"title":null}}}},
     {"mark":{"type":"line","strokeWidth":1.8},"encoding":{
       "y":{"field":"cf","type":"quantitative","scale":{"domain":[95,115],"nice":false,"zero":false},"axis":null},
       "color":{"datum":"CFETS人民币汇率指数","type":"nominal"}}},
     {"mark":{"type":"line","strokeWidth":1.8},"encoding":{
       "y":{"field":"dxy","type":"quantitative","scale":{"domain":[95,115],"nice":false,"zero":false},"axis":{"orient":"left","offset":-43,"values":[95,100,105,110,115],"labelFont":"Liberation Sans","labelPadding":4,"title":null}},
       "color":{"datum":"美元指数","type":"nominal"}}}
    ],
    "resolve":{"scale":{"y":"independent"}}},
   {"width":416,"height":1,"data":{"values":[{}]},"mark":{"type":"rule","opacity":0},
    "encoding":{"x":{"datum":0,"type":"quantitative","scale":{"domain":[0,1]},"axis":{"orient":"bottom","ticks":false,"labels":false,"domainColor":"#808080","domainWidth":1.5,"title":"资料来源：Wind，国信证券经济研究所整理","titleAnchor":"start","titlePadding":9,"titleFontSize":13,"titleFontWeight":"normal","titleColor":"#333333"}}}}
  ]},
  {"spacing":0,"resolve":{"scale":{"color":"independent","fill":"independent","shape":"independent"}},"vconcat":[
   {"width":428,"height":20,"data":{"values":[{}]},"mark":{"type":"rule","opacity":0},
    "encoding":{"x":{"datum":0,"type":"quantitative","scale":{"domain":[0,1]},"axis":{"orient":"top","ticks":false,"labels":false,"domainColor":"#262626","domainWidth":1.5,"title":"图26：美元兑人民币 1 年期锁汇成本变化","titleAnchor":"start","titlePadding":4,"titleFontSize":15,"titleFontWeight":"normal","titleColor":"#262626"}}}},
   {"width":428,"height":195,
    "encoding":{"x":{"field":"d","type":"temporal","scale":{"type":"utc","nice":false,"domain":[{"year":2023,"month":1,"date":1,"utc":true},{"year":2026,"month":4,"date":22,"utc":true}],"range":[41,367]},
      "axis":{"orient":"bottom","tickCount":{"interval":"year","step":1},"labelExpr":"[utcFormat(datum.value, '%y') + '-', utcFormat(datum.value, '%m')]","labelAngle":270,"labelPadding":5,"labelLineHeight":12,"minExtent":48,"title":null}}},
    "layer":[
     {"data":{"name":"c26"},"mark":{"type":"line","strokeWidth":1.8},"encoding":{
       "y":{"field":"f","type":"quantitative","scale":{"domain":[6,7.6],"nice":false,"zero":false},"axis":{"orient":"left","offset":-41,"values":[6,6.2,6.4,6.6,6.8,7,7.2,7.4,7.6],"labelExpr":"datum.value % 1 == 0 ? format(datum.value, 'd') : format(datum.value, '.1f')","labelPadding":5,"title":null}},
       "color":{"datum":"美元兑人民币1年期远期汇率","type":"nominal","scale":{"domain":["美元兑人民币1年期远期汇率","美元兑离岸人民币","锁汇成本"],"range":["#2e75b6","#c8161d","#a5a5a5"]},
         "legend":{"orient":"none","legendX":85,"legendY":-25,"direction":"vertical","symbolType":"M-2.5,0H2.5","symbolSize":207,"symbolStrokeWidth":2,"labelOffset":14,"rowPadding":2.8,"title":null}}}},
     {"data":{"name":"c26"},"mark":{"type":"line","strokeWidth":1.8},"encoding":{
       "y":{"field":"h","type":"quantitative","scale":{"domain":[6,7.6],"nice":false,"zero":false},"axis":null},
       "color":{"datum":"美元兑离岸人民币","type":"nominal"}}},
     {"data":{"name":"c26g"},"mark":{"type":"line","strokeWidth":1.6},"encoding":{
       "y":{"field":"g","type":"quantitative","scale":{"domain":[-5,0],"nice":false,"zero":false},"axis":{"orient":"right","offset":-61,"values":[-5,-4,-3,-2,-1,0],"labelExpr":"format(datum.value, '.2f') + '%'","tickSize":4,"labelPadding":4,"title":null}},
       "color":{"datum":"锁汇成本","type":"nominal"}}}
    ],
    "resolve":{"scale":{"y":"independent"}}},
   {"width":428,"height":1,"data":{"values":[{}]},"mark":{"type":"rule","opacity":0},
    "encoding":{"x":{"datum":0,"type":"quantitative","scale":{"domain":[0,1]},"axis":{"orient":"bottom","ticks":false,"labels":false,"domainColor":"#808080","domainWidth":1.5,"title":"资料来源：Wind，国信证券经济研究所整理","titleAnchor":"start","titlePadding":9,"titleFontSize":13,"titleFontWeight":"normal","titleColor":"#333333"}}}}
  ]}
 ],"spacing":31,"resolve":{"scale":{"color":"independent","fill":"independent","shape":"independent"}}}
]},
{"width":875,"height":55,"data":{"values":[{}]},"mark":{"type":"rule","opacity":0},
 "encoding":{"x":{"datum":0,"type":"quantitative","scale":{"domain":[0,1]},
  "axis":{"orient":"bottom","values":[0,1],"labelExpr":"datum.value == 0 ? '请务必阅读正文之后的免责声明及其项下所有内容' : '9'","labelFlush":true,"labelLimit":0,"ticks":false,"labelPadding":5,"domainColor":"#2f4f6f","domainWidth":1.5,"labelFont":"Noto Sans CJK SC","labelFontSize":14,
   "labelFontStyle":{"condition":{"test":"datum.value == 0","value":"italic"},"value":"normal"},
   "labelColor":{"condition":{"test":"datum.value == 0","value":"#1f3f5f"},"value":"#222222"},"title":null}}}}
]
}
